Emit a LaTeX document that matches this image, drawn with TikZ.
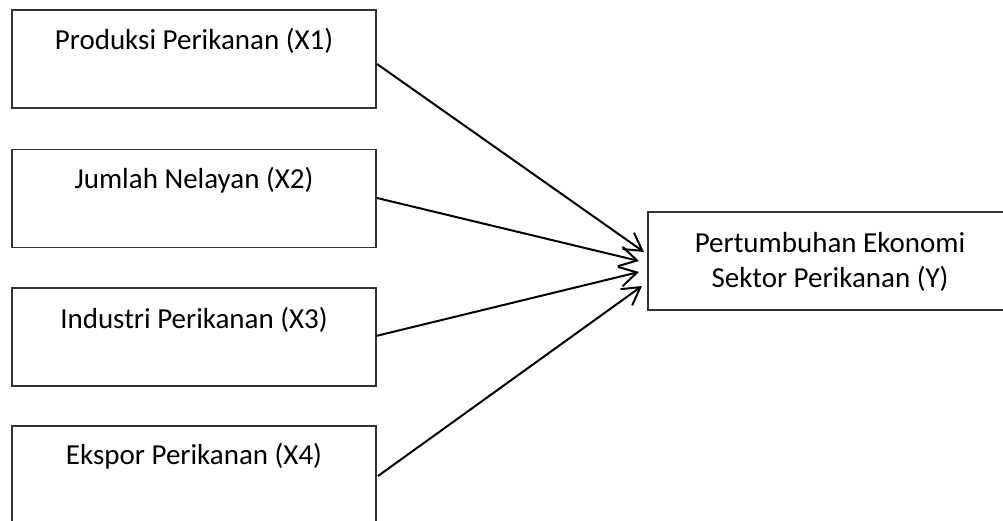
\documentclass[tikz,border=0pt]{standalone}
\usepackage{fontspec}
\setmainfont{Carlito}
\usetikzlibrary{arrows.meta}
\begin{document}
\begin{tikzpicture}[x=1pt,y=-1pt,
  box/.style={draw=black!80, line width=1.3pt, rectangle, inner sep=0pt},
  lbl/.style={font=\fontsize{29}{34}\selectfont, inner sep=0pt, anchor=base, text=black},
  conn/.style={line width=2pt, -{Straight Barb[angle=60:20pt, line width=2pt]}}]
\useasboundingbox (0,0) rectangle (1003,521);
\clip (0,0) rectangle (1003,521);
% predictor boxes
\node[box, minimum width=364pt, minimum height=98pt] (x1) at (194,59) {};
\node[box, minimum width=364pt, minimum height=98pt] (x2) at (194,198.5) {};
\node[box, minimum width=364pt, minimum height=98pt] (x3) at (194,337) {};
\node[box, minimum width=364pt, minimum height=98pt] (x4) at (194,475) {};
\node[lbl] (t1) at (194,50) {Produksi Perikanan (X1)};
\node[lbl] (t2) at (194,189) {Jumlah Nelayan (X2)};
\node[lbl] (t3) at (194,328) {Industri Perikanan (X3)};
\node[lbl] (t4) at (194,464) {Ekspor Perikanan (X4)};
% outcome box
\node[box, minimum width=364pt, minimum height=98pt] (y) at (830,261) {};
\node[lbl] (ty1) at (830,253) {Pertumbuhan Ekonomi};
\node[lbl] (ty2) at (830,287) {Sektor Perikanan (Y)};
% connector end points
\coordinate (s1) at (377,64);
\coordinate (s2) at (377,198);
\coordinate (s3) at (376,336);
\coordinate (s4) at (378,476);
\coordinate (e1) at (644,252);
\coordinate (e2) at (639,261);
\coordinate (e3) at (639,272);
\coordinate (e4) at (642,286);
\draw[conn] (s1) -- (e1);
\draw[conn] (s2) -- (e2);
\draw[conn] (s3) -- (e3);
\draw[conn] (s4) -- (e4);
\end{tikzpicture}
\end{document}
